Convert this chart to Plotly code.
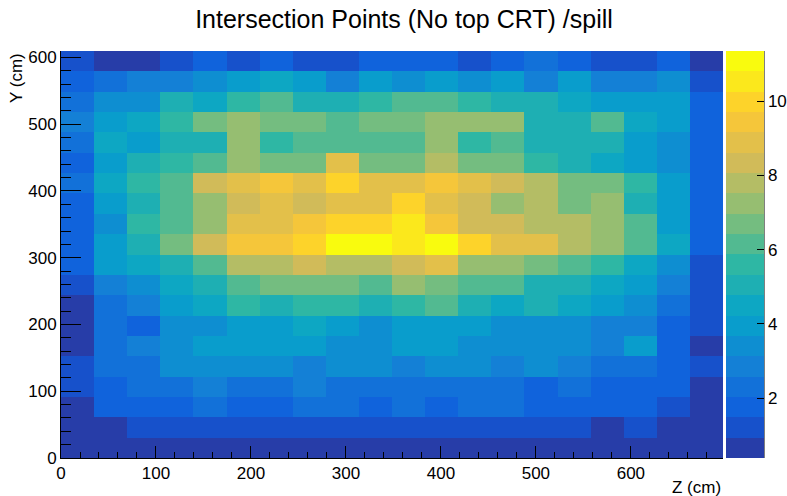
import numpy as np
import plotly.graph_objects as go

# Histogram binning (cm)
z_edges = np.linspace(0.0, 697.0, 21)
y_edges = np.linspace(0.0, 609.6, 21)

# Intersection points per spill, one list per Y bin, listed from the top bin (Y ~ 600) down to Y = 0
rate_top_to_bottom = [
    [1.2, 0.7, 0.7, 1.2, 1.8, 1.2, 1.8, 1.2, 1.2, 1.8, 1.8, 1.8, 1.2, 1.8, 2.3, 1.8, 1.2, 1.2, 1.8, 0.7],
    [1.8, 2.3, 2.9, 2.9, 3.4, 4.0, 4.5, 4.0, 2.9, 4.0, 3.4, 4.0, 3.4, 4.0, 2.9, 4.0, 2.9, 2.9, 3.4, 1.2],
    [2.3, 3.4, 3.4, 5.1, 4.5, 5.6, 6.1, 5.1, 5.1, 5.6, 6.1, 6.1, 5.6, 5.1, 5.1, 4.5, 4.0, 4.0, 4.0, 1.8],
    [2.9, 4.0, 4.5, 5.6, 6.7, 7.2, 6.7, 6.7, 6.1, 6.7, 6.7, 7.2, 7.2, 7.2, 5.1, 5.1, 6.1, 4.5, 4.0, 1.8],
    [2.3, 4.5, 4.0, 5.1, 5.1, 7.2, 5.6, 6.1, 6.1, 6.1, 6.1, 7.2, 5.6, 6.1, 5.1, 5.1, 5.1, 4.0, 3.4, 1.8],
    [1.8, 4.0, 5.1, 5.6, 6.1, 7.2, 6.7, 6.7, 8.9, 6.7, 6.7, 7.8, 6.7, 6.7, 5.6, 5.1, 4.5, 4.0, 3.4, 1.8],
    [2.3, 4.5, 5.6, 6.1, 8.3, 8.9, 9.4, 8.9, 10.0, 8.9, 8.9, 9.4, 8.9, 8.3, 7.8, 6.7, 6.7, 5.6, 4.0, 1.8],
    [1.8, 4.0, 5.1, 6.1, 7.2, 8.3, 8.9, 8.3, 8.9, 8.9, 10.0, 8.9, 8.3, 7.2, 7.8, 6.7, 7.2, 5.1, 4.0, 1.8],
    [1.8, 3.4, 5.6, 6.1, 7.2, 8.9, 8.9, 9.4, 10.0, 10.0, 10.5, 9.4, 8.3, 8.3, 7.8, 7.8, 7.2, 6.1, 4.0, 1.8],
    [1.8, 4.0, 5.1, 6.7, 8.3, 9.4, 9.4, 10.0, 11.1, 11.35, 10.5, 11.1, 10.0, 8.9, 8.9, 7.8, 7.2, 6.1, 4.5, 1.8],
    [1.8, 4.0, 4.5, 5.1, 6.1, 7.8, 7.8, 8.3, 7.8, 7.8, 8.3, 8.9, 7.2, 7.2, 6.7, 6.1, 5.6, 4.5, 3.4, 1.2],
    [1.2, 2.9, 3.4, 4.5, 5.1, 6.1, 6.7, 6.7, 6.7, 6.1, 7.2, 6.7, 6.1, 6.1, 5.1, 5.1, 4.5, 4.0, 2.9, 1.2],
    [0.7, 2.3, 2.9, 4.0, 4.5, 5.6, 5.1, 5.6, 5.6, 5.1, 5.6, 6.1, 5.1, 4.5, 5.1, 4.5, 4.0, 3.4, 2.3, 1.2],
    [0.7, 2.3, 1.8, 3.4, 3.4, 4.0, 4.0, 4.5, 4.0, 3.4, 4.0, 4.0, 4.0, 3.4, 3.4, 3.4, 2.9, 2.9, 1.8, 1.2],
    [0.7, 2.3, 2.9, 3.4, 4.0, 4.0, 4.0, 4.0, 3.4, 3.4, 4.0, 4.0, 3.4, 3.4, 3.4, 3.4, 2.9, 4.0, 1.8, 0.7],
    [1.2, 2.3, 2.3, 3.4, 3.4, 3.4, 3.4, 2.9, 3.4, 3.4, 2.9, 3.4, 3.4, 2.9, 3.4, 2.9, 2.3, 2.3, 1.8, 1.2],
    [1.2, 1.8, 2.3, 2.3, 2.9, 2.3, 2.3, 2.9, 2.3, 2.3, 2.3, 2.3, 2.3, 2.3, 1.8, 2.3, 1.8, 1.8, 1.8, 0.7],
    [0.7, 1.8, 1.8, 1.8, 2.3, 1.8, 1.8, 2.3, 2.3, 1.8, 2.3, 1.8, 2.3, 2.3, 1.8, 1.8, 1.8, 1.8, 1.2, 0.7],
    [0.7, 0.7, 1.2, 1.2, 1.2, 1.2, 1.2, 1.2, 1.2, 1.2, 1.2, 1.2, 1.2, 1.2, 1.2, 1.2, 0.7, 1.2, 0.7, 0.7],
    [0.39, 0.5, 0.6, 0.6, 0.5, 0.6, 0.7, 0.6, 0.6, 0.7, 0.6, 0.6, 0.5, 0.6, 0.6, 0.5, 0.5, 0.6, 0.5, 0.4],
]

colorbar_ticks = [2, 4, 6, 8, 10]

z = np.array(rate_top_to_bottom[::-1])
zmin, zmax = float(z.min()), float(z.max())

# ROOT "kBird" palette, 255 gradient colours, sampled for 20 contour levels
stops = [0.0, 0.125, 0.25, 0.375, 0.5, 0.625, 0.75, 0.875, 1.0]
red = [0.2082, 0.0592, 0.0780, 0.0232, 0.1802, 0.5301, 0.8186, 0.9956, 0.9764]
green = [0.1664, 0.3599, 0.5041, 0.6419, 0.7178, 0.7492, 0.7328, 0.7862, 0.9832]
blue = [0.5293, 0.8684, 0.8385, 0.7914, 0.6425, 0.4662, 0.3499, 0.1968, 0.0539]
n_colors, n_levels = 255, 20
colorscale = []
for k in range(n_levels):
    idx = min(int((k + 0.99) * n_colors / n_levels), n_colors - 1)
    t = idx / (n_colors - 1)
    r, g, b = (int(round(255 * np.interp(t, stops, ch))) for ch in (red, green, blue))
    c = f"rgb({r},{g},{b})"
    colorscale.append([k / n_levels, c])
    colorscale.append([(k + 1) / n_levels, c])

W, H = 787, 496
L, R, T, B = 61, 64, 51, 38
pw, ph = W - L - R, H - T - B
font = "Liberation Sans, Arial, Helvetica, sans-serif"

cb_x0 = (726 - L) / pw
cb_thick = 38

fig = go.Figure(
    go.Heatmap(
        x=z_edges,
        y=y_edges,
        z=z,
        zmin=zmin,
        zmax=zmax,
        colorscale=colorscale,
        hoverongaps=False,
        colorbar=dict(
            x=cb_x0,
            xanchor="left",
            y=0.5,
            yanchor="middle",
            len=1.0,
            lenmode="fraction",
            thickness=cb_thick,
            thicknessmode="pixels",
            xpad=0,
            ypad=0,
            outlinewidth=0,
            ticks="inside",
            ticklen=7,
            tickwidth=1,
            tickcolor="black",
            tickvals=colorbar_ticks,
            tickfont=dict(family=font, size=17, color="black"),
        ),
    )
)

axis_common = dict(
    showgrid=False,
    zeroline=False,
    showline=True,
    linecolor="black",
    linewidth=1,
    ticks="inside",
    tickcolor="black",
    tickwidth=1,
    tick0=0,
    dtick=100,
    tickfont=dict(family=font, size=17, color="black"),
    layer="above traces",
)

fig.update_layout(
    width=W,
    height=H,
    margin=dict(l=L, r=R, t=T, b=B, pad=0, autoexpand=False),
    paper_bgcolor="white",
    plot_bgcolor="white",
    title=dict(
        text="Intersection Points (No top CRT) /spill",
        x=404 / W,
        xanchor="center",
        xref="container",
        y=1 - 19 / H,
        yanchor="middle",
        yref="container",
        font=dict(family=font, size=25, color="black"),
    ),
    xaxis=dict(
        range=[0, 697],
        ticklen=12,
        minor=dict(dtick=20, ticklen=6, ticks="inside", tickcolor="black", tickwidth=1),
        **axis_common,
    ),
    yaxis=dict(
        range=[0, 609.6],
        ticklen=20,
        minor=dict(dtick=20, ticklen=10, ticks="inside", tickcolor="black", tickwidth=1),
        **axis_common,
    ),
    annotations=[
        dict(
            text="Z (cm)",
            xref="paper",
            yref="paper",
            x=1.0,
            y=-(487 - (T + ph)) / ph,
            xanchor="right",
            yanchor="middle",
            showarrow=False,
            font=dict(family=font, size=17, color="black"),
        ),
        dict(
            text="Y (cm)",
            textangle=-90,
            xref="paper",
            yref="paper",
            x=(16 - L) / pw,
            y=1.0,
            xanchor="center",
            yanchor="top",
            showarrow=False,
            font=dict(family=font, size=17, color="black"),
        ),
    ],
    shapes=[
        dict(
            type="line",
            xref="paper",
            yref="paper",
            x0=cb_x0 + cb_thick / pw,
            x1=cb_x0 + cb_thick / pw,
            y0=0,
            y1=1,
            line=dict(color="black", width=1),
        )
    ],
)

fig.write_html("out.html")
